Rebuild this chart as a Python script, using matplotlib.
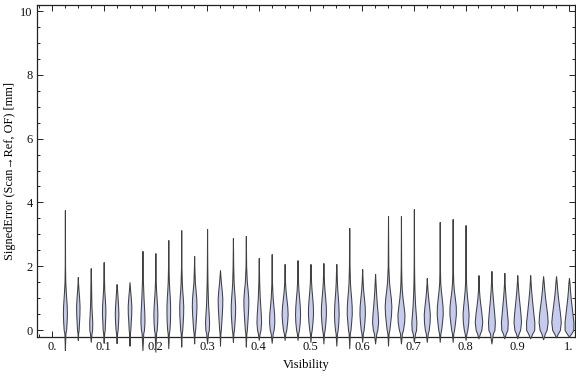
import numpy as np
import matplotlib
matplotlib.use("Agg")
import matplotlib.pyplot as plt
from matplotlib.ticker import MultipleLocator, FixedLocator, FixedFormatter

plt.rcParams['font.family'] = ['Liberation Serif', 'DejaVu Serif']

# --- data ---
visibility = [0.025, 0.05, 0.075, 0.1, 0.125, 0.15, 0.175, 0.2, 0.225, 0.25,
              0.275, 0.3, 0.325, 0.35, 0.375, 0.4, 0.425, 0.45, 0.475, 0.5,
              0.525, 0.55, 0.575, 0.6, 0.625, 0.65, 0.675, 0.7, 0.725, 0.75,
              0.775, 0.8, 0.825, 0.85, 0.875, 0.9, 0.925, 0.95, 0.975, 1.0]

err_max = [3.76, 1.66, 1.94, 2.13, 1.44, 1.50, 2.48, 2.41, 2.82, 3.13,
           2.32, 3.17, 1.88, 2.88, 2.95, 2.26, 2.38, 2.07, 2.19, 2.07,
           2.10, 2.07, 3.20, 1.91, 1.76, 3.57, 3.57, 3.79, 1.63, 3.39,
           3.48, 3.29, 1.72, 1.85, 1.79, 1.72, 1.72, 1.69, 1.69, 1.63]

err_min = [-0.63, -0.31, -0.37, -0.40, -0.41, -0.49, -0.63, -0.68, -0.57, -0.52,
           -0.42, -0.42, -0.49, -0.37, -0.52, -0.31, -0.40, -0.31, -0.31, -0.37,
           -0.42, -0.49, -0.57, -0.37, -0.42, -0.49, -0.42, -0.37, -0.37, -0.37,
           -0.37, -0.31, -0.26, -0.42, -0.26, -0.26, -0.26, -0.29, -0.23, -0.21]

# relative density at fixed error levels (one row per violin)
levels = [-0.1, 0.0, 0.25, 0.5, 0.75, 1.0, 1.25, 1.5, 2.0]
density = [
    [0.5, 1.2, 1.7, 2.0, 1.8, 1.3, 0.8, 0.4, 0.15],
    [0.3, 0.8, 1.2, 1.6, 1.7, 1.3, 0.7, 0.2, 0.0],
    [0.8, 1.4, 1.5, 1.1, 0.7, 0.5, 0.4, 0.3, 0.0],
    [0.5, 1.0, 1.3, 1.7, 1.6, 1.1, 0.6, 0.4, 0.1],
    [0.5, 1.0, 1.5, 1.8, 1.5, 1.0, 0.5, 0.0, 0.0],
    [0.4, 0.8, 1.2, 1.7, 1.8, 1.3, 0.6, 0.1, 0.0],
    [0.8, 1.5, 2.0, 1.9, 1.5, 1.1, 0.8, 0.5, 0.2],
    [0.7, 1.3, 1.8, 2.0, 1.7, 1.2, 0.7, 0.4, 0.15],
    [0.6, 1.1, 1.6, 1.8, 1.8, 1.5, 1.0, 0.6, 0.25],
    [0.5, 1.0, 1.5, 1.9, 2.0, 1.6, 1.0, 0.6, 0.2],
    [0.5, 1.0, 1.5, 2.0, 2.3, 2.1, 1.4, 0.7, 0.2],
    [0.9, 1.7, 2.0, 1.6, 1.1, 0.8, 0.6, 0.4, 0.2],
    [0.4, 0.8, 1.3, 1.8, 2.2, 2.3, 1.7, 0.9, 0.1],
    [0.5, 1.0, 1.6, 2.1, 2.2, 1.8, 1.2, 0.7, 0.3],
    [0.5, 1.0, 1.5, 2.0, 2.4, 2.4, 1.8, 1.0, 0.3],
    [0.9, 1.7, 2.3, 2.0, 1.5, 1.0, 0.7, 0.4, 0.15],
    [1.0, 1.9, 2.6, 2.4, 1.7, 1.0, 0.6, 0.3, 0.1],
    [0.8, 1.6, 2.5, 3.0, 2.6, 1.7, 0.9, 0.4, 0.1],
    [0.7, 1.4, 2.2, 2.5, 2.2, 1.6, 0.9, 0.5, 0.15],
    [0.6, 1.2, 2.0, 2.5, 2.4, 1.8, 1.1, 0.6, 0.15],
    [0.6, 1.2, 2.0, 2.5, 2.4, 1.8, 1.1, 0.6, 0.15],
    [0.7, 1.3, 2.0, 2.3, 2.1, 1.6, 1.0, 0.6, 0.2],
    [0.6, 1.2, 1.9, 2.5, 2.4, 1.9, 1.2, 0.7, 0.3],
    [0.7, 1.4, 2.2, 2.7, 2.5, 1.8, 1.0, 0.5, 0.0],
    [1.2, 2.2, 3.0, 2.6, 1.9, 1.3, 0.8, 0.4, 0.0],
    [0.6, 1.3, 2.2, 3.0, 3.3, 2.8, 1.8, 1.0, 0.3],
    [1.0, 2.0, 3.2, 3.5, 2.6, 1.6, 0.9, 0.5, 0.2],
    [1.2, 2.2, 2.5, 1.9, 1.3, 0.9, 0.6, 0.4, 0.2],
    [1.0, 1.9, 2.8, 3.0, 2.3, 1.4, 0.7, 0.2, 0.0],
    [0.7, 1.4, 2.3, 3.0, 2.8, 2.0, 1.1, 0.5, 0.2],
    [0.7, 1.4, 2.4, 3.2, 3.1, 2.2, 1.2, 0.6, 0.2],
    [0.9, 1.7, 2.7, 3.0, 2.4, 1.6, 0.9, 0.5, 0.2],
    [1.5, 2.8, 3.7, 3.0, 2.0, 1.1, 0.5, 0.2, 0.0],
    [1.5, 3.0, 3.4, 2.8, 2.1, 1.4, 0.8, 0.4, 0.0],
    [1.5, 3.0, 3.4, 2.7, 2.0, 1.3, 0.7, 0.3, 0.0],
    [1.4, 2.8, 3.7, 3.2, 2.4, 1.6, 0.9, 0.4, 0.0],
    [2.2, 4.0, 4.1, 3.2, 2.4, 1.6, 0.9, 0.4, 0.0],
    [1.8, 3.4, 4.5, 4.0, 3.0, 2.0, 1.2, 0.6, 0.0],
    [2.0, 3.8, 4.7, 4.0, 3.0, 2.0, 1.2, 0.6, 0.0],
    [2.4, 4.3, 4.4, 3.5, 2.6, 1.7, 1.0, 0.5, 0.0],
]

x_ticks = [0.0, 0.1, 0.2, 0.3, 0.4, 0.5, 0.6, 0.7, 0.8, 0.9, 1.0]
x_tick_labels = ["0.", "0.1", "0.2", "0.3", "0.4", "0.5", "0.6", "0.7", "0.8", "0.9", "1."]

# --- figure ---
fig = plt.figure(figsize=(5.76, 3.77), dpi=100)
ax = fig.add_axes([0.0642, 0.106, 0.9340, 0.8807])

WIDTH_SCALE = 0.00195   # density unit -> visibility units
FILL = '#c6ccf0'
EDGE = '#404040'

for pos, lo, hi, dens in zip(visibility, err_min, err_max, density):
    ys = [lo]
    ws = [0.0]
    for lv, d in zip(levels, dens):
        if lo < lv < hi:
            ys.append(lv)
            ws.append(d)
    ys.append(hi)
    ws.append(0.0)
    ys = np.array(ys)
    ws = np.array(ws) * WIDTH_SCALE
    # tails hang below the frame in the original, so no clipping at the bottom
    ax.fill_betweenx(ys, pos - ws, pos + ws, facecolor=FILL, edgecolor=EDGE,
                     lw=0.75, clip_on=False, zorder=3)

ax.set_xlim(-0.029, 1.0116)
ax.set_ylim(-0.22, 10.19)

ax.xaxis.set_major_locator(FixedLocator(x_ticks))
ax.xaxis.set_major_formatter(FixedFormatter(x_tick_labels))
ax.xaxis.set_minor_locator(MultipleLocator(0.025))
ax.yaxis.set_major_locator(MultipleLocator(2))
ax.yaxis.set_minor_locator(MultipleLocator(0.5))

ax.tick_params(which='both', direction='in', top=True, right=True,
               color='#222222', labelsize=9, labelcolor='#111111', width=0.7)
ax.tick_params(which='major', length=4.5, pad=3)
ax.tick_params(which='minor', length=2.5)
ax.tick_params(axis='y', labelright=False)

for sp in ax.spines.values():
    sp.set_color('#222222')
    sp.set_linewidth(0.9)

ax.set_xlabel('Visibility', fontsize=9, labelpad=4)
ax.set_ylabel('SignedError (Scan\u2192Ref, OF) [mm]', fontsize=8.8, labelpad=3)

fig.savefig('out.png', dpi=100)
